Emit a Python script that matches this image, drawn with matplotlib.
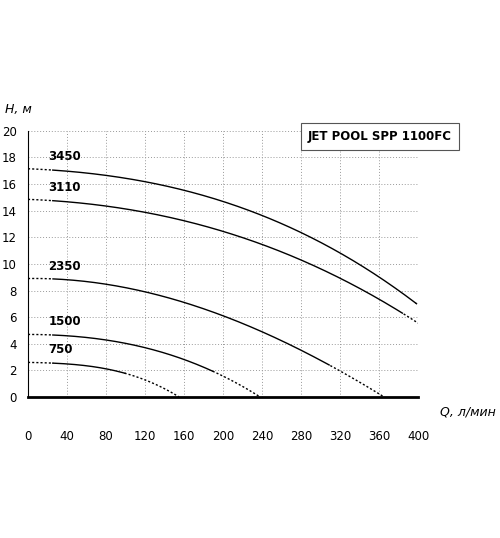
import matplotlib.pyplot as plt
import numpy as np

q_3450 = [0, 40, 80, 120, 160, 200, 240, 280, 320, 360, 400]
h_3450 = [17.1, 17.0, 16.7, 16.2, 15.5, 14.6, 13.6, 12.4, 10.9, 9.0, 6.9]
q_3110 = [0, 40, 80, 120, 160, 200, 240, 280, 320, 360, 400]
h_3110 = [14.8, 14.7, 14.4, 13.9, 13.2, 12.4, 11.4, 10.3, 9.0, 7.4, 5.5]
q_2350 = [0, 40, 80, 120, 160, 200, 240, 280, 320, 365]
h_2350 = [8.9, 8.8, 8.5, 7.9, 7.1, 6.1, 4.9, 3.5, 2.0, 0]
q_1500 = [0, 40, 80, 120, 160, 200, 238]
h_1500 = [4.7, 4.6, 4.3, 3.7, 2.8, 1.6, 0]
q_750 = [0, 40, 80, 120, 155]
h_750 = [2.6, 2.5, 2.1, 1.3, 0]
# solid part of each curve (from, to), rest dotted
solid = {'3450': (25, 398), '3110': (25, 385), '2350': (25, 310),
         '1500': (25, 190), '750': (25, 100)}
curves = {'3450': (q_3450, h_3450), '3110': (q_3110, h_3110),
          '2350': (q_2350, h_2350), '1500': (q_1500, h_1500), '750': (q_750, h_750)}

fig = plt.figure(figsize=(5, 5.38), dpi=100)
ax = fig.add_axes([0.056, 0.262, 0.78, 0.495])

for name, (q, h) in curves.items():
    p = np.polyfit(q, h, 3)
    xs = np.linspace(0, q[-1], 300)
    ys = np.clip(np.polyval(p, xs), 0, None)
    a, b = solid[name]
    m = (xs >= a) & (xs <= b)
    ax.plot(xs[m], ys[m], color='black', lw=1.0)
    ax.plot(xs[xs <= a + 1], ys[xs <= a + 1], color='black', lw=1.0, ls=(0, (1.5, 1.5)))
    ax.plot(xs[xs >= b - 1], ys[xs >= b - 1], color='black', lw=1.0, ls=(0, (1.5, 1.5)))
    ax.text(21, h[0] + 0.45, name, fontsize=8.5, fontweight='bold', ha='left', va='bottom')

ax.set_xlim(0, 400)
ax.set_ylim(0, 20)
ax.set_xticks(range(0, 401, 40))
ax.set_yticks(range(0, 21, 2))
ax.grid(True, color='#999999', ls=(0, (1, 2)), lw=0.7)
for s in ['top', 'right']:
    ax.spines[s].set_visible(False)
ax.spines['left'].set_linewidth(0.8)
ax.spines['bottom'].set_linewidth(2)
ax.tick_params(length=0, labelsize=8.5)
ax.tick_params(axis='x', pad=24)
ax.tick_params(axis='y', pad=8)

fig.text(0.01, 0.79, 'H, м', fontsize=9, style='italic')
fig.text(0.88, 0.228, 'Q, л/мин', fontsize=9, style='italic')
fig.text(0.76, 0.747, 'JET POOL SPP 1100FC', fontsize=8.5, fontweight='bold', ha='center', va='center',
         bbox=dict(boxstyle='square,pad=0.6', fc='white', ec='#555555', lw=0.8))

fig.savefig('out.png')
